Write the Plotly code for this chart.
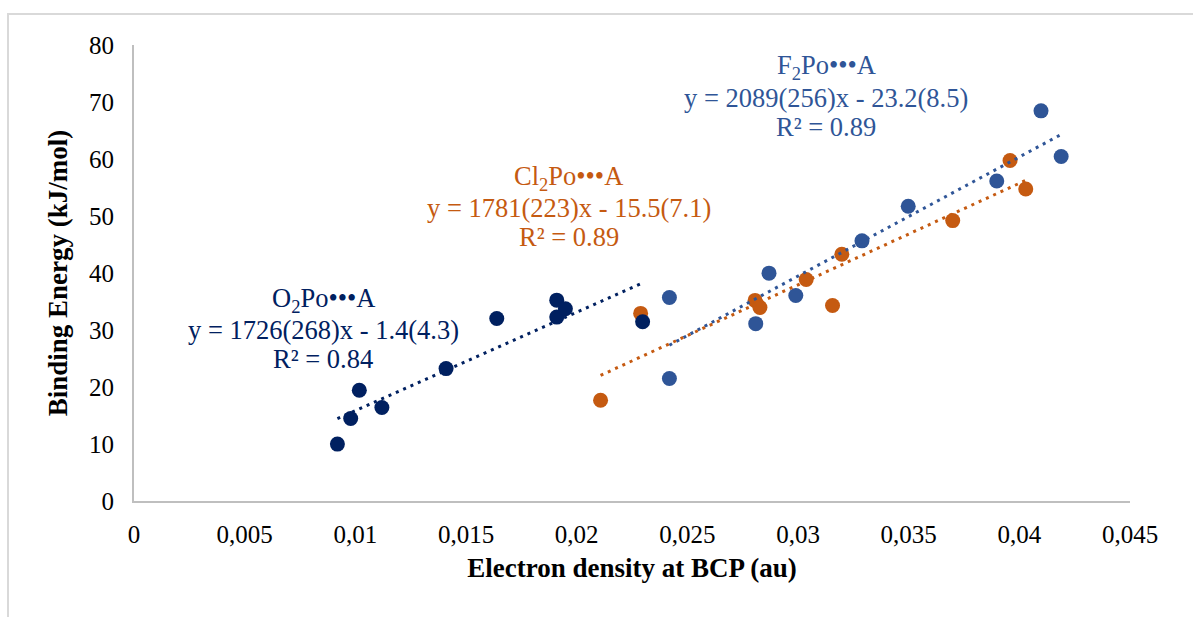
import plotly.graph_objects as go

# ---- data ----
o2_x = [0.00919, 0.00979, 0.01018, 0.01120, 0.01410, 0.01639, 0.01910, 0.01910, 0.01949, 0.02298]
o2_y = [9.98, 14.48, 19.43, 16.40, 23.23, 32.03, 35.24, 32.26, 33.73, 31.46]

f2_x = [0.02419, 0.02419, 0.02869, 0.02809, 0.02990, 0.03289, 0.03498, 0.03898, 0.04098, 0.04189]
f2_y = [35.71, 21.48, 39.97, 31.11, 36.06, 45.64, 51.70, 56.14, 68.45, 60.45]

cl2_x = [0.02108, 0.02289, 0.02806, 0.02828, 0.03037, 0.03156, 0.03198, 0.03699, 0.03958, 0.04029]
cl2_y = [17.68, 32.91, 35.19, 33.96, 38.86, 34.31, 43.29, 49.19, 59.75, 54.74]

# trendline coefficients (slope, intercept) as given in the chart
o2_fit = (1726, -1.4)
cl2_fit = (1781, -15.5)
f2_fit = (2089, -23.2)

x_ticks = [0, 0.005, 0.01, 0.015, 0.02, 0.025, 0.03, 0.035, 0.04, 0.045]
x_tick_text = ["0", "0,005", "0,01", "0,015", "0,02", "0,025", "0,03", "0,035", "0,04", "0,045"]
y_ticks = [0, 10, 20, 30, 40, 50, 60, 70, 80]

NAVY = "#002060"
ORANGE = "#C55A11"
BLUE = "#2F5597"
FONT = "Liberation Serif"

fig = go.Figure()

series = [
    (f2_x, f2_y, f2_fit, BLUE, "F2Po•••A"),
    (cl2_x, cl2_y, cl2_fit, ORANGE, "Cl2Po•••A"),
    (o2_x, o2_y, o2_fit, NAVY, "O2Po•••A"),
]

for xs, ys, fit, col, name in series:
    fig.add_trace(go.Scatter(x=xs, y=ys, mode="markers", name=name,
                             marker=dict(size=15, color=col, line=dict(width=0)),
                             showlegend=False, hoverinfo="skip"))

for xs, ys, fit, col, name in series:
    x0, x1 = min(xs), max(xs)
    fig.add_trace(go.Scatter(x=[x0, x1], y=[fit[0] * x0 + fit[1], fit[0] * x1 + fit[1]],
                             mode="lines", line=dict(color=col, width=3, dash="3px,5px"),
                             showlegend=False, hoverinfo="skip"))

# ---- trendline labels ----
labels = [
    (0.00854, [35.26, 30.0, 24.9], ["O<sub>2</sub>Po•••A", "y = 1726(268)x - 1.4(4.3)", "R² = 0.84"], NAVY),
    (0.01965, [56.7, 51.4, 46.3], ["Cl<sub>2</sub>Po•••A", "y = 1781(223)x - 15.5(7.1)", "R² = 0.89"], ORANGE),
    (0.03127, [76.1, 70.7, 65.6], ["F<sub>2</sub>Po•••A", "y = 2089(256)x - 23.2(8.5)", "R² = 0.89"], BLUE),
]
for xc, ys_, texts, col in labels:
    for yy, t in zip(ys_, texts):
        fig.add_annotation(x=xc, y=yy, xref="x", yref="y", text=t, showarrow=False,
                           xanchor="center", yanchor="middle",
                           font=dict(family=FONT, size=26.5, color=col))

# outer chart border
fig.add_shape(type="rect", xref="paper", yref="paper",
              x0=-0.1265, x1=1.075, y0=-0.35, y1=1.068,
              line=dict(color="#D9D9D9", width=2), layer="below")

fig.update_layout(
    width=1193, height=617,
    margin=dict(l=134, r=63, t=45, b=116),
    paper_bgcolor="white", plot_bgcolor="white",
    font=dict(family=FONT, color="black"),
    xaxis=dict(range=[0, 0.045], tickvals=x_ticks, ticktext=x_tick_text,
               showgrid=False, zeroline=False, showline=True, linecolor="#BFBFBF", linewidth=2,
               ticks="", tickfont=dict(family=FONT, size=25, color="black"),
               ticklabelstandoff=10,
               title=dict(text="<b>Electron density at BCP (au)</b>",
                          font=dict(family=FONT, size=27, color="black"), standoff=11)),
    yaxis=dict(range=[0, 80], tickvals=y_ticks,
               showgrid=False, zeroline=False, showline=True, linecolor="#BFBFBF", linewidth=2,
               ticks="", tickfont=dict(family=FONT, size=25, color="black"),
               ticklabelstandoff=13,
               title=dict(text="<b>Binding Energy (kJ/mol)</b>",
                          font=dict(family=FONT, size=27, color="black"), standoff=14)),
)

fig.write_html("out.html")
